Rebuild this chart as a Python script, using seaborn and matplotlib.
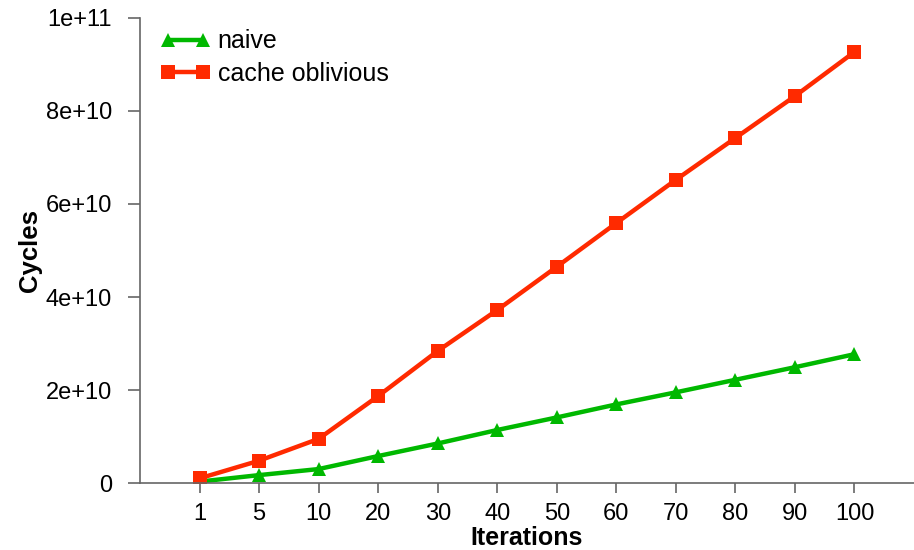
import matplotlib
matplotlib.use("Agg")
import matplotlib.pyplot as plt
import seaborn as sns
import pandas as pd
import numpy as np

iterations = ["1", "5", "10", "20", "30", "40", "50", "60", "70", "80", "90", "100"]
naive = [0.03e10, 0.17e10, 0.30e10, 0.58e10, 0.85e10, 1.14e10, 1.41e10, 1.69e10, 1.95e10, 2.22e10, 2.49e10, 2.77e10]
cache_oblivious = [0.10e10, 0.48e10, 0.95e10, 1.87e10, 2.84e10, 3.72e10, 4.65e10, 5.59e10, 6.52e10, 7.42e10, 8.32e10, 9.27e10]
series_names = ["naive", "cache oblivious"]
y_ticks = [0, 2e10, 4e10, 6e10, 8e10, 1e11]
y_tick_labels = ["0", "2e+10", "4e+10", "6e+10", "8e+10", "1e+11"]

sns.set_theme(style="white")
plt.rcParams["font.family"] = ["Liberation Sans", "DejaVu Sans"]

pos = np.arange(len(iterations))
df = pd.concat([
    pd.DataFrame({"pos": pos, "cycles": naive, "series": series_names[0]}),
    pd.DataFrame({"pos": pos, "cycles": cache_oblivious, "series": series_names[1]}),
])

fig = plt.figure(figsize=(9.14, 5.5), dpi=100)
ax = fig.add_axes([0.1532, 0.1218, 0.8468, 0.8455])

sns.lineplot(data=df, x="pos", y="cycles", hue="series", style="series",
             palette={"naive": "#00b800", "cache oblivious": "#ff2a00"},
             markers={"naive": "^", "cache oblivious": "s"},
             dashes=False, linewidth=3.2, markersize=9.5, markeredgewidth=0,
             ax=ax)

ax.set_xlim(-1, 12)
ax.set_ylim(0, 1e11)
ax.set_xticks(pos)
ax.set_xticklabels(iterations)
ax.set_yticks(y_ticks)
ax.set_yticklabels(y_tick_labels)

for s in ["top", "right"]:
    ax.spines[s].set_visible(False)
for s in ["left", "bottom"]:
    ax.spines[s].set_color("#666666")
    ax.spines[s].set_linewidth(1.2)
ax.tick_params(axis="both", which="major", direction="out", width=1.2,
               color="#666666", labelsize=17, labelcolor="black",
               bottom=True, left=True)
ax.tick_params(axis="y", length=9, pad=11)
ax.tick_params(axis="x", length=7.5, pad=7)

ax.set_xlabel("Iterations", fontsize=18, fontweight="bold", color="black")
ax.xaxis.set_label_coords(0.5, -0.118)
ax.xaxis.label.set_va("center")
ax.set_ylabel("Cycles", fontsize=18.5, fontweight="bold", color="black")
ax.yaxis.set_label_coords(-0.142, 0.50)
ax.yaxis.label.set_va("center")

leg = ax.legend(loc="upper left", bbox_to_anchor=(0.013, 0.997), frameon=False,
                fontsize=18, handlelength=2.0, handletextpad=0.3, labelspacing=0.35,
                borderaxespad=0.0, numpoints=2)
for t in leg.get_texts():
    t.set_color("black")

fig.savefig("out.png", dpi=100)
